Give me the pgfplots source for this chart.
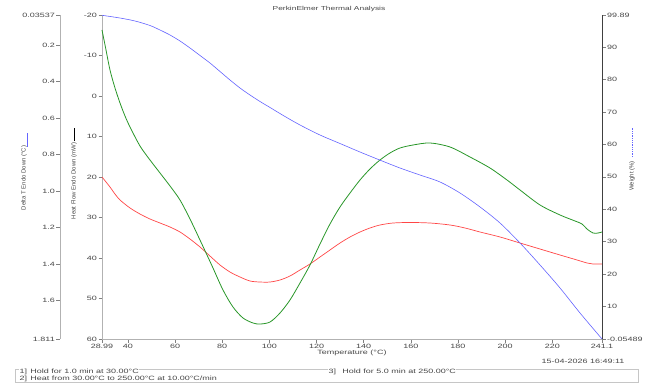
\documentclass[border=0pt]{standalone}
\usepackage{fontspec}
\setmainfont{Liberation Sans}[FakeStretch=1.45]
\newfontfamily\rotfont{Liberation Sans}
\usepackage{pgfplots}
\pgfplotsset{compat=1.18}
\definecolor{txt}{RGB}{70,70,70}
\definecolor{cred}{RGB}{255,70,70}
\definecolor{cgreen}{RGB}{40,150,40}
\definecolor{cblue}{RGB}{100,100,255}
\pgfplotsset{every axis/.append style={
  scale only axis, height=324pt,
  /pgf/number format/assume math mode=true,
  tick align=outside, major tick length=3.5pt,
  tick style={gray, line width=0.4pt},
  ticklabel style={font=\fontsize{6.2}{7}\selectfont, text=txt, inner sep=1.5pt},
  label style={font=\fontsize{6.2}{7}\selectfont, text=txt},
  clip=false,
}}
\begin{document}
\begin{tikzpicture}[x=1pt,y=1pt]
\useasboundingbox (0,0) rectangle (656,383);
% Delta T axis (outer left)
\begin{axis}[at={(60pt,44pt)}, anchor=south west, width=542pt,
  xmin=0, xmax=1, ymin=0.03537, ymax=1.811, y dir=reverse,
  axis x line=none, axis y line*=left, y axis line style={gray!60, -},
  ytick={0.03537,0.2,0.4,0.6,0.8,1.0,1.2,1.4,1.6,1.811},
  yticklabels={0.03537,0.2,0.4,0.6,0.8,1.0,1.2,1.4,1.6,1.811}]
\end{axis}
% Heat flow axis
\begin{axis}[at={(102pt,44pt)}, anchor=south west, width=500pt,
  xmin=28.99, xmax=241.1, ymin=-20, ymax=60, y dir=reverse,
  axis x line=none, axis y line*=left, y axis line style={gray!60, -},
  ytick={-20,-10,0,10,20,30,40,50,60},
  yticklabels={-20,-10,0,10,20,30,40,50,60}]
\addplot[cred, line width=0.7pt, smooth] coordinates {
(28.99,20.00)(30.69,21.23)(32.38,22.47)(34.50,24.20)(36.63,25.68)(40.87,27.65)(45.11,29.14)(49.35,30.37)(53.60,31.36)(57.84,32.35)(62.08,33.58)(66.32,35.31)(70.56,37.28)(74.80,39.51)(79.05,41.73)(83.29,43.46)(87.53,44.69)(91.77,45.68)(96.02,45.93)(100.26,45.93)(104.50,45.43)(108.74,44.44)(112.99,42.96)(117.23,41.48)(121.47,39.75)(125.71,38.02)(129.95,36.30)(134.20,34.81)(138.44,33.58)(142.68,32.59)(146.92,31.85)(152.43,31.36)(159.65,31.23)(168.13,31.36)(176.62,31.85)(182.98,32.59)(189.35,33.58)(197.83,34.81)(206.32,36.30)(214.80,37.78)(223.29,39.26)(230.50,40.49)(234.74,41.23)(237.29,41.48)(241.10,41.48)};
\addplot[cgreen, line width=0.8pt, smooth] coordinates {
(28.99,-16.30)(30.69,-11.36)(32.38,-6.42)(34.50,-1.98)(36.63,1.73)(38.75,4.94)(40.87,7.65)(45.11,12.35)(49.35,15.80)(53.60,19.01)(57.84,22.22)(62.08,25.68)(66.32,30.37)(70.56,35.56)(73.53,39.26)(76.08,42.47)(80.32,47.90)(84.56,52.10)(88.80,54.81)(93.05,56.05)(96.02,56.30)(100.26,55.80)(104.50,53.58)(108.74,50.37)(112.99,46.17)(117.23,41.73)(121.47,36.54)(125.71,31.60)(129.95,27.41)(134.20,23.95)(138.44,20.74)(142.68,18.02)(146.92,15.80)(151.16,14.07)(155.41,12.84)(160.92,12.10)(168.13,11.60)(176.62,12.59)(185.10,15.06)(193.59,17.78)(200.80,20.74)(206.32,23.21)(214.80,26.91)(223.29,29.38)(229.65,30.86)(232.62,31.60)(234.74,32.84)(237.29,33.83)(239.41,33.83)(241.10,33.58)};
\end{axis}
% Weight axis (right) with x axis
\begin{axis}[at={(102pt,44pt)}, anchor=south west, width=500pt,
  xmin=28.99, xmax=241.1, ymin=-0.05489, ymax=99.89,
  axis x line*=bottom, axis y line*=right,
  x axis line style={gray!60, -}, y axis line style={black!75, -},
  xtick={28.99,40,60,80,100,120,140,160,180,200,220,241.1},
  xticklabels={28.99,40,60,80,100,120,140,160,180,200,220,241.1},
  xticklabel style={inner sep=1pt},
  ytick={-0.05489,10,20,30,40,50,60,70,80,90,99.89},
  yticklabels={-0.05489,10,20,30,40,50,60,70,80,90,99.89},
  xlabel={Temperature (°C)},
  xlabel style={at={(axis description cs:0.5,0)}, anchor=north, yshift=-11pt, inner sep=0pt}]
\addplot[cblue, line width=0.6pt, smooth] coordinates {
(28.99,99.80)(36.63,98.96)(42.99,98.04)(49.35,96.65)(53.60,95.26)(57.84,93.72)(62.08,91.87)(66.32,89.71)(70.56,87.40)(74.80,85.08)(79.05,82.46)(83.29,79.84)(87.53,77.37)(91.77,75.21)(96.02,73.21)(100.26,71.36)(106.62,68.58)(112.99,65.96)(121.47,62.87)(129.95,60.25)(138.44,57.63)(146.92,55.12)(155.41,52.69)(163.89,50.53)(172.38,48.38)(180.86,44.98)(189.35,40.67)(197.83,35.73)(206.32,29.56)(214.80,22.78)(223.29,15.68)(231.77,7.97)(241.10,-0.05)};
\end{axis}
% axis titles
\node[rotate=90, text=txt, font=\rotfont\fontsize{6}{7}\selectfont] at (24,205) {Delta T Endo Down (°C)};
\draw[cblue, line width=0.8pt] (27.7,236) -- (27.7,250);
\node[rotate=90, text=txt, font=\rotfont\fontsize{6}{7}\selectfont] at (74,202) {Heat Flow Endo Down (mW)};
\draw[black, line width=0.8pt] (74,242) -- (74,255);
\node[rotate=90, text=txt, font=\rotfont\fontsize{6}{7}\selectfont] at (632,207) {Weight (\%)};
\draw[cblue, densely dotted, line width=0.8pt] (632,226) -- (632,255);
% title
\node[text=txt, font=\fontsize{5.8}{7}\selectfont] at (329,374) {PerkinElmer Thermal Analysis};
% footer
\node[text=txt, font=\fontsize{6.2}{7}\selectfont, anchor=east] at (628,22) {15-04-2026 16:49:11};
\draw[gray!45, line width=0.4pt] (15,1) rectangle (638,14);
\node[text=txt, fill=white, inner sep=0.5pt, anchor=west, font=\fontsize{6.2}{7}\selectfont] at (19,11) {1]\enspace Hold for 1.0 min at 30.00°C};
\node[text=txt, fill=white, inner sep=0.5pt, anchor=west, font=\fontsize{6.2}{7}\selectfont] at (19,4) {2]\enspace Heat from 30.00°C to 250.00°C at 10.00°C/min};
\node[text=txt, fill=white, inner sep=0.5pt, anchor=west, font=\fontsize{6.2}{7}\selectfont] at (328,11) {3]\enspace\enspace Hold for 5.0 min at 250.00°C};
\end{tikzpicture}
\end{document}
